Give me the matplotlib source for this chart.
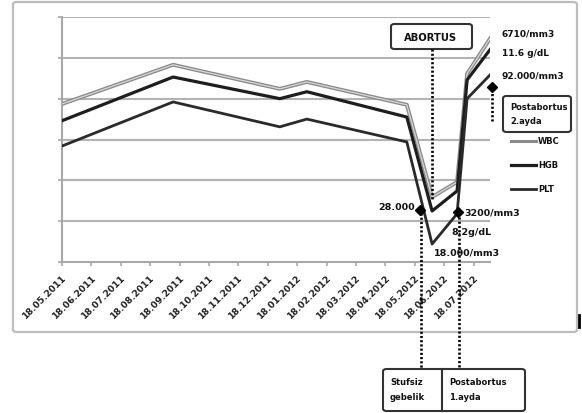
import matplotlib
matplotlib.use("Agg")
import matplotlib.pyplot as plt
from matplotlib.lines import Line2D
from matplotlib.patches import FancyBboxPatch

# Monthly date labels (18th of each month)
date_labels = ["18.05.2011", "18.06.2011", "18.07.2011", "18.08.2011", "18.09.2011",
               "18.10.2011", "18.11.2011", "18.12.2011", "18.01.2012", "18.02.2012",
               "18.03.2012", "18.04.2012", "18.05.2012", "18.06.2012", "18.07.2012"]

# Measurement times, in months after 18.05.2011
t_months = [0.0, 3.78, 7.41, 8.33, 11.73, 12.59, 13.44, 13.78, 14.56]

# Scaled series values (relative units on the hidden y scale)
wbc = [3.87, 4.83, 4.24, 4.41, 3.85, 1.59, 1.96, 4.61, 5.47]
hgb = [3.46, 4.53, 4.00, 4.17, 3.55, 1.25, 1.74, 4.46, 5.20]
plt_count = [2.84, 3.92, 3.31, 3.50, 2.94, 0.44, 1.18, 4.00, 4.58]

W, H = 582, 414
fig = plt.figure(figsize=(W / 100, H / 100), dpi=100)


def fx(x):
    return x / W


def fy(y):
    return 1 - y / H


# Outer chart frame
fig.add_artist(FancyBboxPatch((fx(13), fy(333)), fx(577) - fx(13), fy(3) - fy(333),
                              boxstyle="round,pad=0,rounding_size=0.006",
                              transform=fig.transFigure, fill=False,
                              edgecolor="#bdbdbd", linewidth=1.6))
fig.add_artist(Line2D([fx(579), fx(579)], [fy(316), fy(328)], color="black", lw=2,
                      transform=fig.transFigure))

ax = fig.add_axes([fx(62), fy(263), fx(490) - fx(62), fy(18) - fy(263)])
ax.set_xlim(0, 14.56)
ax.set_ylim(0, 6)

grid_c = "#b3b3b3"
for yv in range(1, 7):
    ax.axhline(yv, color=grid_c, lw=1.5, zorder=1)

for side in ["top", "right"]:
    ax.spines[side].set_visible(False)
for side in ["left", "bottom"]:
    ax.spines[side].set_color("#a8a8a8")
    ax.spines[side].set_linewidth(1.5)

ax.set_yticks(range(0, 7))
ax.set_yticklabels([])
ax.tick_params(axis="y", length=3, color="#a8a8a8", width=1.2)
ax.set_xticks(range(len(date_labels)))
ax.set_xticklabels(date_labels, rotation=45, ha="right", rotation_mode="anchor",
                   fontsize=6.6, fontweight="bold", color="#222222")
ax.tick_params(axis="x", length=3, color="#a8a8a8", width=1.2, pad=4)

# Series lines
ax.plot(t_months, wbc, color="#8a8a8a", lw=2.8, zorder=3)
ax.plot(t_months, wbc, color="#d8d8d8", lw=0.9, zorder=3.1)
ax.plot(t_months, hgb, color="#1e1e1e", lw=2.3, zorder=4)
ax.plot(t_months, plt_count, color="#2a2a2a", lw=2.0, zorder=4)

# Markers at annotated points
ax.plot([12.18, 13.47], [1.27, 1.22], marker="D", ls="none", color="black",
        ms=5, zorder=6, clip_on=False)

dot_style = dict(color="black", lw=1.9, linestyle=(0, (0.8, 0.8)))


def vline_px(x, y0, y1):
    fig.add_artist(Line2D([fx(x), fx(x)], [fy(y0), fy(y1)],
                          transform=fig.transFigure, **dot_style))


# Event guide lines
vline_px(432, 50, 200)
vline_px(421, 214, 370)
vline_px(459, 218, 370)
vline_px(492, 122, 92)
fig.add_artist(Line2D([fx(492)], [fy(88)], marker="D", ms=5, color="black",
                      transform=fig.transFigure))

bold = dict(fontweight="bold", color="#111111")

# ABORTUS box
fig.add_artist(FancyBboxPatch((fx(391), fy(50)), fx(472) - fx(391), fy(25) - fy(50),
                              boxstyle="round,pad=0,rounding_size=0.006",
                              transform=fig.transFigure, fill=True, facecolor="white",
                              edgecolor="#333333", linewidth=1.5))
fig.text(fx(431), fy(38), "ABORTUS", ha="center", va="center", fontsize=7.2, **bold)

# Post-abortion 2nd month box
fig.add_artist(FancyBboxPatch((fx(503), fy(133)), fx(571) - fx(503), fy(97) - fy(133),
                              boxstyle="round,pad=0,rounding_size=0.006",
                              transform=fig.transFigure, fill=True, facecolor="white",
                              edgecolor="#333333", linewidth=1.5))
fig.text(fx(510), fy(108), "Postabortus", ha="left", va="center", fontsize=6, **bold)
fig.text(fx(510), fy(122), "2.ayda", ha="left", va="center", fontsize=6, **bold)

# Bottom two-cell box
fig.add_artist(FancyBboxPatch((fx(383), fy(412)), fx(525) - fx(383), fy(370) - fy(412),
                              boxstyle="round,pad=0,rounding_size=0.006",
                              transform=fig.transFigure, fill=True, facecolor="white",
                              edgecolor="#333333", linewidth=1.5))
fig.add_artist(Line2D([fx(442), fx(442)], [fy(370), fy(412)], color="#333333", lw=1.5,
                      transform=fig.transFigure))
fig.text(fx(390), fy(383), "Stufsiz", ha="left", va="center", fontsize=6, **bold)
fig.text(fx(390), fy(398), "gebelik", ha="left", va="center", fontsize=6, **bold)
fig.text(fx(449), fy(383), "Postabortus", ha="left", va="center", fontsize=6, **bold)
fig.text(fx(449), fy(398), "1.ayda", ha="left", va="center", fontsize=6, **bold)

# Value labels
fig.text(fx(502), fy(34), "6710/mm3", ha="left", va="center", fontsize=6.5, **bold)
fig.text(fx(502), fy(54), "11.6 g/dL", ha="left", va="center", fontsize=6.5, **bold)
fig.text(fx(502), fy(76), "92.000/mm3", ha="left", va="center", fontsize=6.5, **bold)
fig.text(fx(415), fy(208), "28.000", ha="right", va="center", fontsize=6.8, **bold)
fig.text(fx(464), fy(213), "3200/mm3", ha="left", va="center", fontsize=6.8, **bold)
fig.text(fx(451), fy(233), "8,2g/dL", ha="left", va="center", fontsize=6.8, **bold)
fig.text(fx(434), fy(253), "18.000/mm3", ha="left", va="center", fontsize=6.8, **bold)

# Legend
legend_items = [("WBC", "#8a8a8a", 2.2, 142), ("HGB", "#1e1e1e", 2.3, 166),
                ("PLT", "#2a2a2a", 2.0, 190)]
for name, col, lw, ypx in legend_items:
    fig.add_artist(Line2D([fx(511), fx(536)], [fy(ypx), fy(ypx)], color=col, lw=lw,
                          transform=fig.transFigure))
    fig.text(fx(538), fy(ypx), name, ha="left", va="center", fontsize=6, **bold)

fig.savefig("out.png", dpi=100)
